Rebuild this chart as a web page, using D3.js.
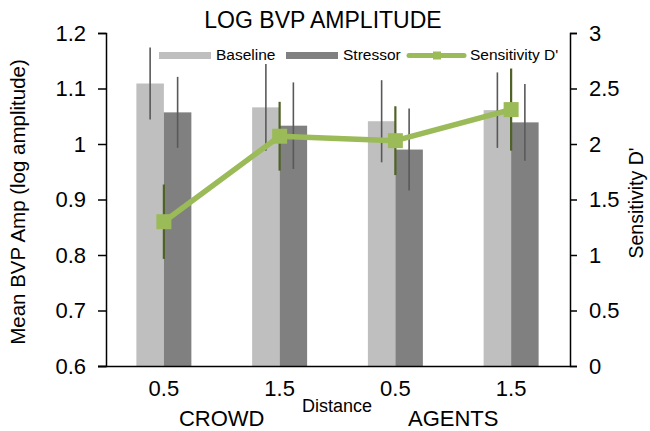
<!DOCTYPE html>
<html>
<head>
<meta charset="utf-8">
<script src="https://cdn.jsdelivr.net/npm/d3@7"></script>
<style>
  html, body { margin: 0; padding: 0; background: #fff; }
  svg { display: block; font-family: "Liberation Sans", Arial, sans-serif; }
</style>
</head>
<body>
<svg id="chart" width="650" height="431"></svg>
<script>
// ---- data ----
const categories = ["CROWD 0.5", "CROWD 1.5", "AGENTS 0.5", "AGENTS 1.5"];
const tickLabels = ["0.5", "1.5", "0.5", "1.5"];
const groupLabels = ["CROWD", "AGENTS"];
const baseline = [1.109, 1.066, 1.041, 1.061];
const baselineErr = [0.065, 0.078, 0.074, 0.068];
const stressor = [1.057, 1.033, 0.990, 1.039];
const stressorErr = [0.064, 0.078, 0.074, 0.069];
const sensitivity = [1.30, 2.07, 2.03, 2.31];
const sensitivityErr = [0.335, 0.31, 0.31, 0.37];
const leftTicks = [0.6, 0.7, 0.8, 0.9, 1, 1.1, 1.2];
const rightTicks = [0, 0.5, 1, 1.5, 2, 2.5, 3];

// ---- layout ----
const svg = d3.select("#chart");
const L = 106, R = 570, T = 33, B = 366;
const fmt = v => String(v);

const x = d3.scaleBand().domain(categories).range([L, R - 1])
  .paddingInner(0.525).paddingOuter(0.2625);
const xSub = d3.scaleBand().domain(["baseline", "stressor"]).range([0, x.bandwidth()]);
const yL = d3.scaleLinear().domain([0.6, 1.2]).range([B, T]);
const yR = d3.scaleLinear().domain([0, 3]).range([B, T]);

const colBase = "#BFBFBF", colStress = "#808080", colErr = "#595959";
const colGreen = "#9BBB59", colGreenErr = "#4F6228";

const rows = categories.map((c, i) => ({
  c, i,
  vals: [
    {k: "baseline", v: baseline[i], e: baselineErr[i], col: colBase},
    {k: "stressor", v: stressor[i], e: stressorErr[i], col: colStress}
  ]
}));

// bars
const g = svg.append("g");
const grp = g.selectAll("g.grp").data(rows).join("g")
  .attr("transform", d => `translate(${x(d.c)},0)`);
grp.selectAll("rect").data(d => d.vals).join("rect")
  .attr("x", d => xSub(d.k))
  .attr("width", xSub.bandwidth())
  .attr("y", d => yL(d.v))
  .attr("height", d => yL(0.6) - yL(d.v))
  .attr("fill", d => d.col);
grp.selectAll("line.err").data(d => d.vals).join("line")
  .attr("class", "err")
  .attr("x1", d => xSub(d.k) + xSub.bandwidth() / 2)
  .attr("x2", d => xSub(d.k) + xSub.bandwidth() / 2)
  .attr("y1", d => yL(d.v + d.e))
  .attr("y2", d => yL(d.v - d.e))
  .attr("stroke", colErr).attr("stroke-width", 1.6);

// axes
const axL = svg.append("g").attr("transform", `translate(${L},0)`)
  .call(d3.axisLeft(yL).tickValues(leftTicks).tickFormat(fmt).tickSize(8).tickPadding(12));
const axR = svg.append("g").attr("transform", `translate(${R},0)`)
  .call(d3.axisRight(yR).tickValues(rightTicks).tickFormat(fmt).tickSize(7).tickPadding(12));
const axB = svg.append("g").attr("transform", `translate(0,${B})`)
  .call(d3.axisBottom(x).tickFormat((d, i) => tickLabels[i]).tickSize(0).tickPadding(19));
axB.select(".domain").attr("d", `M${L - 8},0.5H${R}`);
[axL, axR, axB].forEach(a => {
  a.selectAll(".domain").attr("stroke", "#000").attr("stroke-width", 1.5);
  a.selectAll(".tick line").attr("stroke", "#000").attr("stroke-width", 1.5);
  a.selectAll("text").attr("font-family", "Liberation Sans, Arial, sans-serif")
    .attr("font-size", 22).attr("fill", "#000");
});
axB.selectAll(".tick text").attr("dy", "0.5em");

// sensitivity line with error bars
const cx = c => x(c) + x.bandwidth() / 2;
const sens = categories.map((c, i) => ({c, v: sensitivity[i], e: sensitivityErr[i]}));
svg.append("g").selectAll("line").data(sens).join("line")
  .attr("x1", d => cx(d.c)).attr("x2", d => cx(d.c))
  .attr("y1", d => yR(d.v + d.e)).attr("y2", d => yR(d.v - d.e))
  .attr("stroke", colGreenErr).attr("stroke-width", 2.2);
svg.append("path").datum(sens)
  .attr("d", d3.line().x(d => cx(d.c)).y(d => yR(d.v)))
  .attr("fill", "none").attr("stroke", colGreen).attr("stroke-width", 5.5)
  .attr("stroke-linejoin", "round");
const ms = 15;
svg.append("g").selectAll("rect").data(sens).join("rect")
  .attr("x", d => cx(d.c) - ms / 2).attr("y", d => yR(d.v) - ms / 2)
  .attr("width", ms).attr("height", ms).attr("fill", colGreen);

// title
svg.append("text").attr("x", 323).attr("y", 28).attr("text-anchor", "middle")
  .attr("font-size", 23).text("LOG BVP AMPLITUDE");

// axis titles
svg.append("text").attr("transform", "translate(25,202) rotate(-90)")
  .attr("text-anchor", "middle").attr("font-size", 20.5)
  .text("Mean BVP Amp (log amplitude)");
svg.append("text").attr("transform", "translate(643,203) rotate(-90)")
  .attr("text-anchor", "middle").attr("font-size", 19.5)
  .text("Sensitivity D'");

// group labels
const groupCenters = [
  (cx(categories[0]) + cx(categories[1])) / 2,
  (cx(categories[2]) + cx(categories[3])) / 2
];
svg.append("g").selectAll("text").data(groupLabels).join("text")
  .attr("x", (d, i) => groupCenters[i]).attr("y", 426)
  .attr("text-anchor", "middle").attr("font-size", 22).text(d => d);
svg.append("text").attr("x", 337).attr("y", 412).attr("text-anchor", "middle")
  .attr("font-size", 18).text("Distance");

// legend
const leg = svg.append("g").attr("font-size", 15.5);
const legItems = [
  {label: "Baseline", col: colBase, type: "bar", x: 159},
  {label: "Stressor", col: colStress, type: "bar", x: 286},
  {label: "Sensitivity D'", col: colGreen, type: "line", x: 409}
];
legItems.forEach(it => {
  if (it.type === "bar") {
    leg.append("rect").attr("x", it.x).attr("y", 52).attr("width", 52).attr("height", 7).attr("fill", it.col);
    leg.append("text").attr("x", it.x + 57).attr("y", 60).text(it.label);
  } else {
    leg.append("line").attr("x1", it.x).attr("x2", it.x + 55).attr("y1", 55.5).attr("y2", 55.5)
      .attr("stroke", it.col).attr("stroke-width", 5).attr("stroke-linecap", "round");
    leg.append("rect").attr("x", it.x + 24).attr("y", 51.5).attr("width", 8).attr("height", 8).attr("fill", it.col);
    leg.append("text").attr("x", it.x + 61).attr("y", 60).text(it.label);
  }
});
</script>
</body>
</html>
